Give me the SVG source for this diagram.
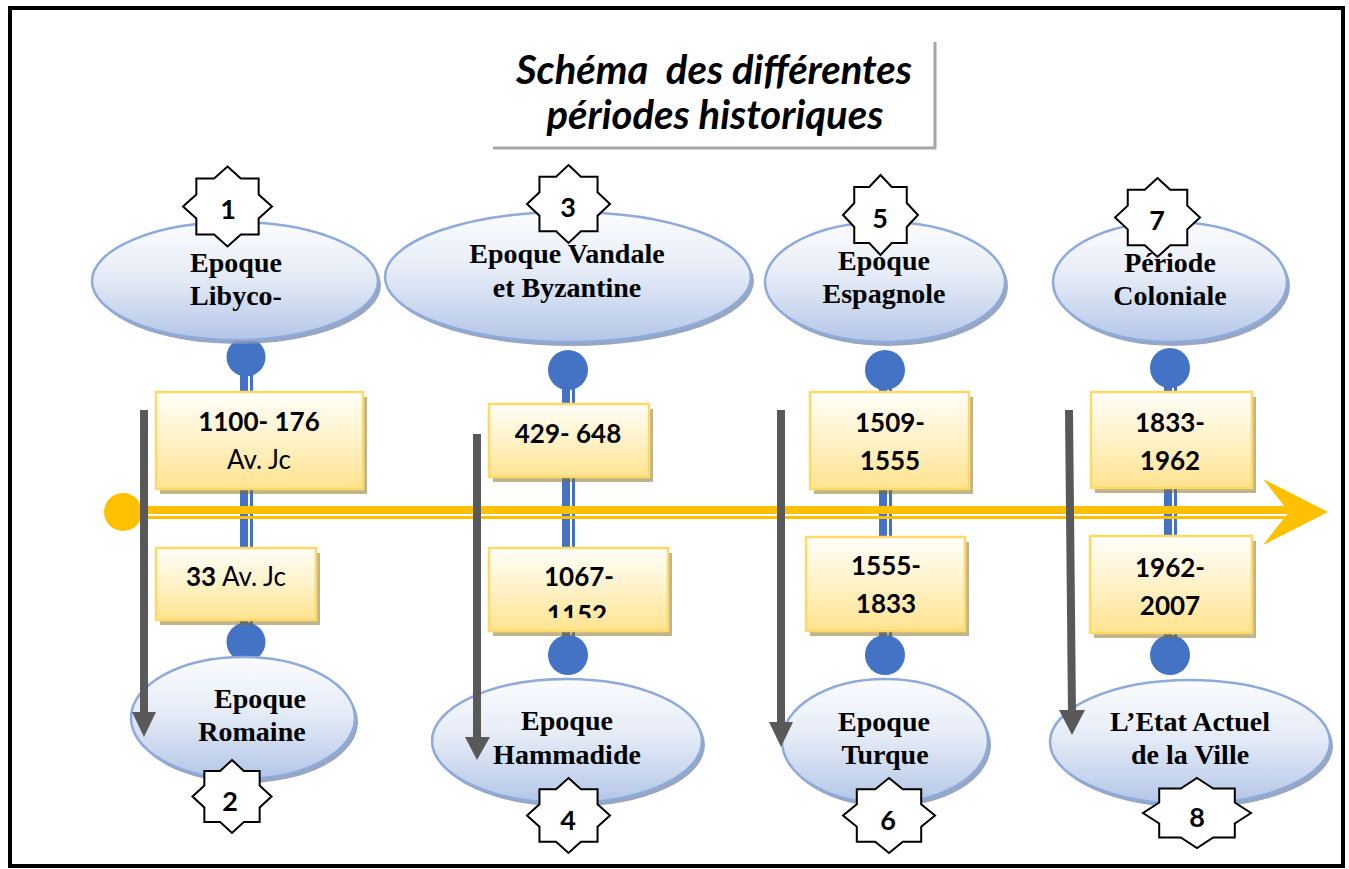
<svg xmlns="http://www.w3.org/2000/svg" xmlns:xlink="http://www.w3.org/1999/xlink" width="1349" height="869" viewBox="0 0 1349 869">
  <style>
    .frame { fill: #ffffff; stroke: #000000; stroke-width: 4; }
    .title { font-family: Lato, "Liberation Sans", sans-serif; font-weight: bold; font-style: italic; font-size: 40px; fill: #000; text-anchor: middle; }
    .title-rule { stroke: #a6a6a6; stroke-width: 3; fill: none; }
    .era { fill: url(#eraFill); stroke: #8eaadb; stroke-width: 2.5; }
    .era-shadow { fill: #8696b4; opacity: 0.85; }
    .era-text { font-family: "Liberation Serif", "Times New Roman", serif; font-weight: bold; font-size: 28px; fill: #000; text-anchor: middle; }
    .date { fill: url(#dateFill); stroke: #ffd966; stroke-width: 2.5; }
    .date-shadow { fill: rgb(130, 105, 30); opacity: 0.5; }
    .date-text { font-family: Lato, "Liberation Sans", sans-serif; font-size: 26px; fill: #000; text-anchor: middle; }
    .b { font-weight: bold; }
    .dot { fill: #4472c4; }
    .stem { fill: #4472c4; }
    .gold { fill: #ffc000; }
    .flow { stroke: #595959; stroke-width: 8; fill: none; }
    .flow-head { fill: #595959; }
    .badge { fill: #ffffff; stroke: #000000; stroke-width: 2; }
    .badge-text { font-family: Lato, "Liberation Sans", sans-serif; font-weight: bold; font-size: 27px; fill: #000; text-anchor: middle; }
  </style>
  <defs>
    <linearGradient id="eraFill" x1="0" y1="0" x2="0" y2="1">
      <stop offset="0" stop-color="#fbfcfe"/>
      <stop offset="0.45" stop-color="#e6ecf7"/>
      <stop offset="1" stop-color="#b3c6e7"/>
    </linearGradient>
    <linearGradient id="dateFill" x1="0" y1="0" x2="0" y2="1">
      <stop offset="0" stop-color="#fffefa"/>
      <stop offset="0.5" stop-color="#fff2c8"/>
      <stop offset="1" stop-color="#ffe38f"/>
    </linearGradient>
    <!-- eight-point star: a square overlaid on a diamond, unit size -->
    <polygon id="star" vector-effect="non-scaling-stroke"
      points="0,-1 0.3,-0.7 0.7,-0.7 0.7,-0.3 1,0 0.7,0.3 0.7,0.7 0.3,0.7 0,1 -0.3,0.7 -0.7,0.7 -0.7,0.3 -1,0 -0.7,-0.3 -0.7,-0.7 -0.3,-0.7"/>
    <clipPath id="clip1152">
      <rect x="489" y="548" width="179" height="70"/>
    </clipPath>
  </defs>

  <!-- page frame -->
  <rect class="frame" x="10" y="8" width="1333" height="858"/>

  <!-- title -->
  <g id="title">
    <polyline class="title-rule" points="935,42 935,148 493,148"/>
    <text class="title" x="714" y="84" xml:space="preserve">Schéma  des différentes</text>
    <text class="title" x="715" y="129">périodes historiques</text>
  </g>

  <!-- connectors: vertical period stems, timeline and flow arrows -->
  <g id="connectors">
    <!-- double stems (thick + thin) -->
    <rect class="stem" x="240" y="357" width="8" height="285"/>
    <rect class="stem" x="250" y="357" width="3" height="285"/>
    <rect class="stem" x="562" y="370" width="8" height="285"/>
    <rect class="stem" x="572" y="370" width="3" height="285"/>
    <rect class="stem" x="879" y="370" width="8" height="285"/>
    <rect class="stem" x="889" y="370" width="3" height="285"/>
    <rect class="stem" x="1164" y="368" width="8" height="287"/>
    <rect class="stem" x="1174" y="368" width="3" height="287"/>
    <!-- stem end dots -->
    <circle class="dot" cx="246" cy="357" r="19.5"/>
    <circle class="dot" cx="246" cy="642" r="19.5"/>
    <circle class="dot" cx="568" cy="370" r="20"/>
    <circle class="dot" cx="568" cy="655" r="20"/>
    <circle class="dot" cx="885" cy="370" r="20"/>
    <circle class="dot" cx="885" cy="655" r="20"/>
    <circle class="dot" cx="1170" cy="368" r="20"/>
    <circle class="dot" cx="1170" cy="655" r="20"/>
  </g>

  <!-- upper eras -->
  <g id="era-1">
    <ellipse class="era-shadow" cx="238" cy="285" rx="143" ry="59"/>
    <ellipse class="era" cx="235" cy="281" rx="143" ry="59"/>
  </g>
  <g id="era-3">
    <ellipse class="era-shadow" cx="571" cy="281" rx="183" ry="65"/>
    <ellipse class="era" cx="568" cy="277" rx="183" ry="65"/>
  </g>
  <g id="era-5">
    <ellipse class="era-shadow" cx="888" cy="286" rx="120" ry="60"/>
    <ellipse class="era" cx="885" cy="282" rx="120" ry="60"/>
  </g>
  <g id="era-7">
    <ellipse class="era-shadow" cx="1173" cy="286" rx="117" ry="60"/>
    <ellipse class="era" cx="1170" cy="282" rx="117" ry="60"/>
  </g>
  <!-- lower eras -->
  <g id="era-2">
    <ellipse class="era-shadow" cx="246" cy="722" rx="112" ry="61"/>
    <ellipse class="era" cx="243" cy="718" rx="112" ry="61"/>
  </g>
  <g id="era-4">
    <ellipse class="era-shadow" cx="570" cy="745" rx="135" ry="62"/>
    <ellipse class="era" cx="567" cy="741" rx="135" ry="62"/>
  </g>
  <g id="era-6">
    <ellipse class="era-shadow" cx="888" cy="745" rx="103" ry="62"/>
    <ellipse class="era" cx="885" cy="741" rx="103" ry="62"/>
  </g>
  <g id="era-8">
    <ellipse class="era-shadow" cx="1193" cy="746" rx="140" ry="62"/>
    <ellipse class="era" cx="1190" cy="742" rx="140" ry="62"/>
  </g>

  <!-- timeline -->
  <g id="timeline">
    <rect class="gold" x="123" y="506" width="1168" height="8"/>
    <rect class="gold" x="123" y="516" width="1168" height="3"/>
    <circle class="gold" cx="123" cy="512" r="19"/>
    <polygon class="gold" points="1263,479 1328,512 1263,545 1289,512"/>
  </g>

  <!-- date boxes -->
  <g id="date-1a">
    <rect class="date-shadow" x="160" y="397" width="207" height="97"/>
    <rect class="date" x="156" y="392" width="207" height="97"/>
    <text class="date-text b" x="259" y="431">1100- 176</text>
    <text class="date-text" x="259" y="469">Av. Jc</text>
  </g>
  <g id="date-1b">
    <rect class="date-shadow" x="160" y="553" width="160" height="72"/>
    <rect class="date" x="156" y="548" width="160" height="72"/>
    <text class="date-text" x="236" y="586"><tspan class="b">33</tspan> Av. Jc</text>
  </g>
  <g id="date-3a">
    <rect class="date-shadow" x="493" y="409" width="160" height="73"/>
    <rect class="date" x="489" y="404" width="160" height="73"/>
    <text class="date-text b" x="568" y="443">429- 648</text>
  </g>
  <g id="date-3b">
    <rect class="date-shadow" x="493" y="553" width="179" height="83"/>
    <rect class="date" x="489" y="548" width="179" height="83"/>
    <text class="date-text b" x="579" y="586">1067-</text>
    <text class="date-text b" x="577" y="624" clip-path="url(#clip1152)">1152</text>
  </g>
  <g id="date-5a">
    <rect class="date-shadow" x="814" y="397" width="159" height="97"/>
    <rect class="date" x="810" y="392" width="159" height="97"/>
    <text class="date-text b" x="890" y="432">1509-</text>
    <text class="date-text b" x="890" y="470">1555</text>
  </g>
  <g id="date-5b">
    <rect class="date-shadow" x="810" y="542" width="159" height="94"/>
    <rect class="date" x="806" y="537" width="159" height="94"/>
    <text class="date-text b" x="886" y="575">1555-</text>
    <text class="date-text b" x="886" y="613">1833</text>
  </g>
  <g id="date-7a">
    <rect class="date-shadow" x="1095" y="397" width="161" height="96"/>
    <rect class="date" x="1091" y="392" width="161" height="96"/>
    <text class="date-text b" x="1170" y="432">1833-</text>
    <text class="date-text b" x="1170" y="470">1962</text>
  </g>
  <g id="date-7b">
    <rect class="date-shadow" x="1094" y="541" width="162" height="97"/>
    <rect class="date" x="1090" y="536" width="162" height="97"/>
    <text class="date-text b" x="1170" y="577">1962-</text>
    <text class="date-text b" x="1170" y="615">2007</text>
  </g>

  <!-- downward flow arrows -->
  <g id="flow-arrows">
    <line class="flow" x1="144" y1="410" x2="144" y2="716"/>
    <polygon class="flow-head" points="132,712 156,712 144,737"/>
    <line class="flow" x1="477" y1="434" x2="477" y2="740"/>
    <polygon class="flow-head" points="465,737 490,737 477,760"/>
    <line class="flow" x1="781" y1="410" x2="781" y2="726"/>
    <polygon class="flow-head" points="769,722 793,722 781,747"/>
    <line class="flow" x1="1069" y1="410" x2="1072" y2="714"/>
    <polygon class="flow-head" points="1059,710 1085,710 1072,735"/>
  </g>

  <!-- numbered badges -->
  <g id="badge-1"><use href="#star" class="badge" transform="translate(227.5,206.5) scale(44.5,40)"/><text class="badge-text" x="228" y="219">1</text></g>
  <g id="badge-2"><use href="#star" class="badge" transform="translate(232,796.5) scale(39.5,36.5)"/><text class="badge-text" x="230" y="811">2</text></g>
  <g id="badge-3"><use href="#star" class="badge" transform="translate(568.5,204) scale(41.5,39)"/><text class="badge-text" x="568" y="217">3</text></g>
  <g id="badge-4"><use href="#star" class="badge" transform="translate(568.5,815.5) scale(41.5,37.5)"/><text class="badge-text" x="568" y="830">4</text></g>
  <g id="badge-5"><use href="#star" class="badge" transform="translate(880.5,215) scale(37.5,40)"/><text class="badge-text" x="880" y="228">5</text></g>
  <g id="badge-6"><use href="#star" class="badge" transform="translate(889,815.5) scale(46,37.5)"/><text class="badge-text" x="888" y="830">6</text></g>
  <g id="badge-7"><use href="#star" class="badge" transform="translate(1157.5,217.5) scale(42.5,39.5)"/><text class="badge-text" x="1157" y="230">7</text></g>
  <g id="badge-8"><use href="#star" class="badge" transform="translate(1197,813) scale(54,35)"/><text class="badge-text" x="1197" y="827">8</text></g>

  <!-- era labels -->
  <g id="labels">
    <text class="era-text" x="236" y="272">Epoque</text>
    <text class="era-text" x="236" y="305">Libyco-</text>
    <text class="era-text" x="567" y="263">Epoque Vandale</text>
    <text class="era-text" x="567" y="297">et Byzantine</text>
    <text class="era-text" x="884" y="270">Epoque</text>
    <text class="era-text" x="884" y="303">Espagnole</text>
    <text class="era-text" x="1170" y="272">Période</text>
    <text class="era-text" x="1170" y="305">Coloniale</text>
    <text class="era-text" x="260" y="708">Epoque</text>
    <text class="era-text" x="252" y="741">Romaine</text>
    <text class="era-text" x="567" y="730">Epoque</text>
    <text class="era-text" x="567" y="764">Hammadide</text>
    <text class="era-text" x="884" y="731">Epoque</text>
    <text class="era-text" x="885" y="764">Turque</text>
    <text class="era-text" x="1190" y="731">L’Etat Actuel</text>
    <text class="era-text" x="1190" y="764">de la Ville</text>
  </g>
</svg>
